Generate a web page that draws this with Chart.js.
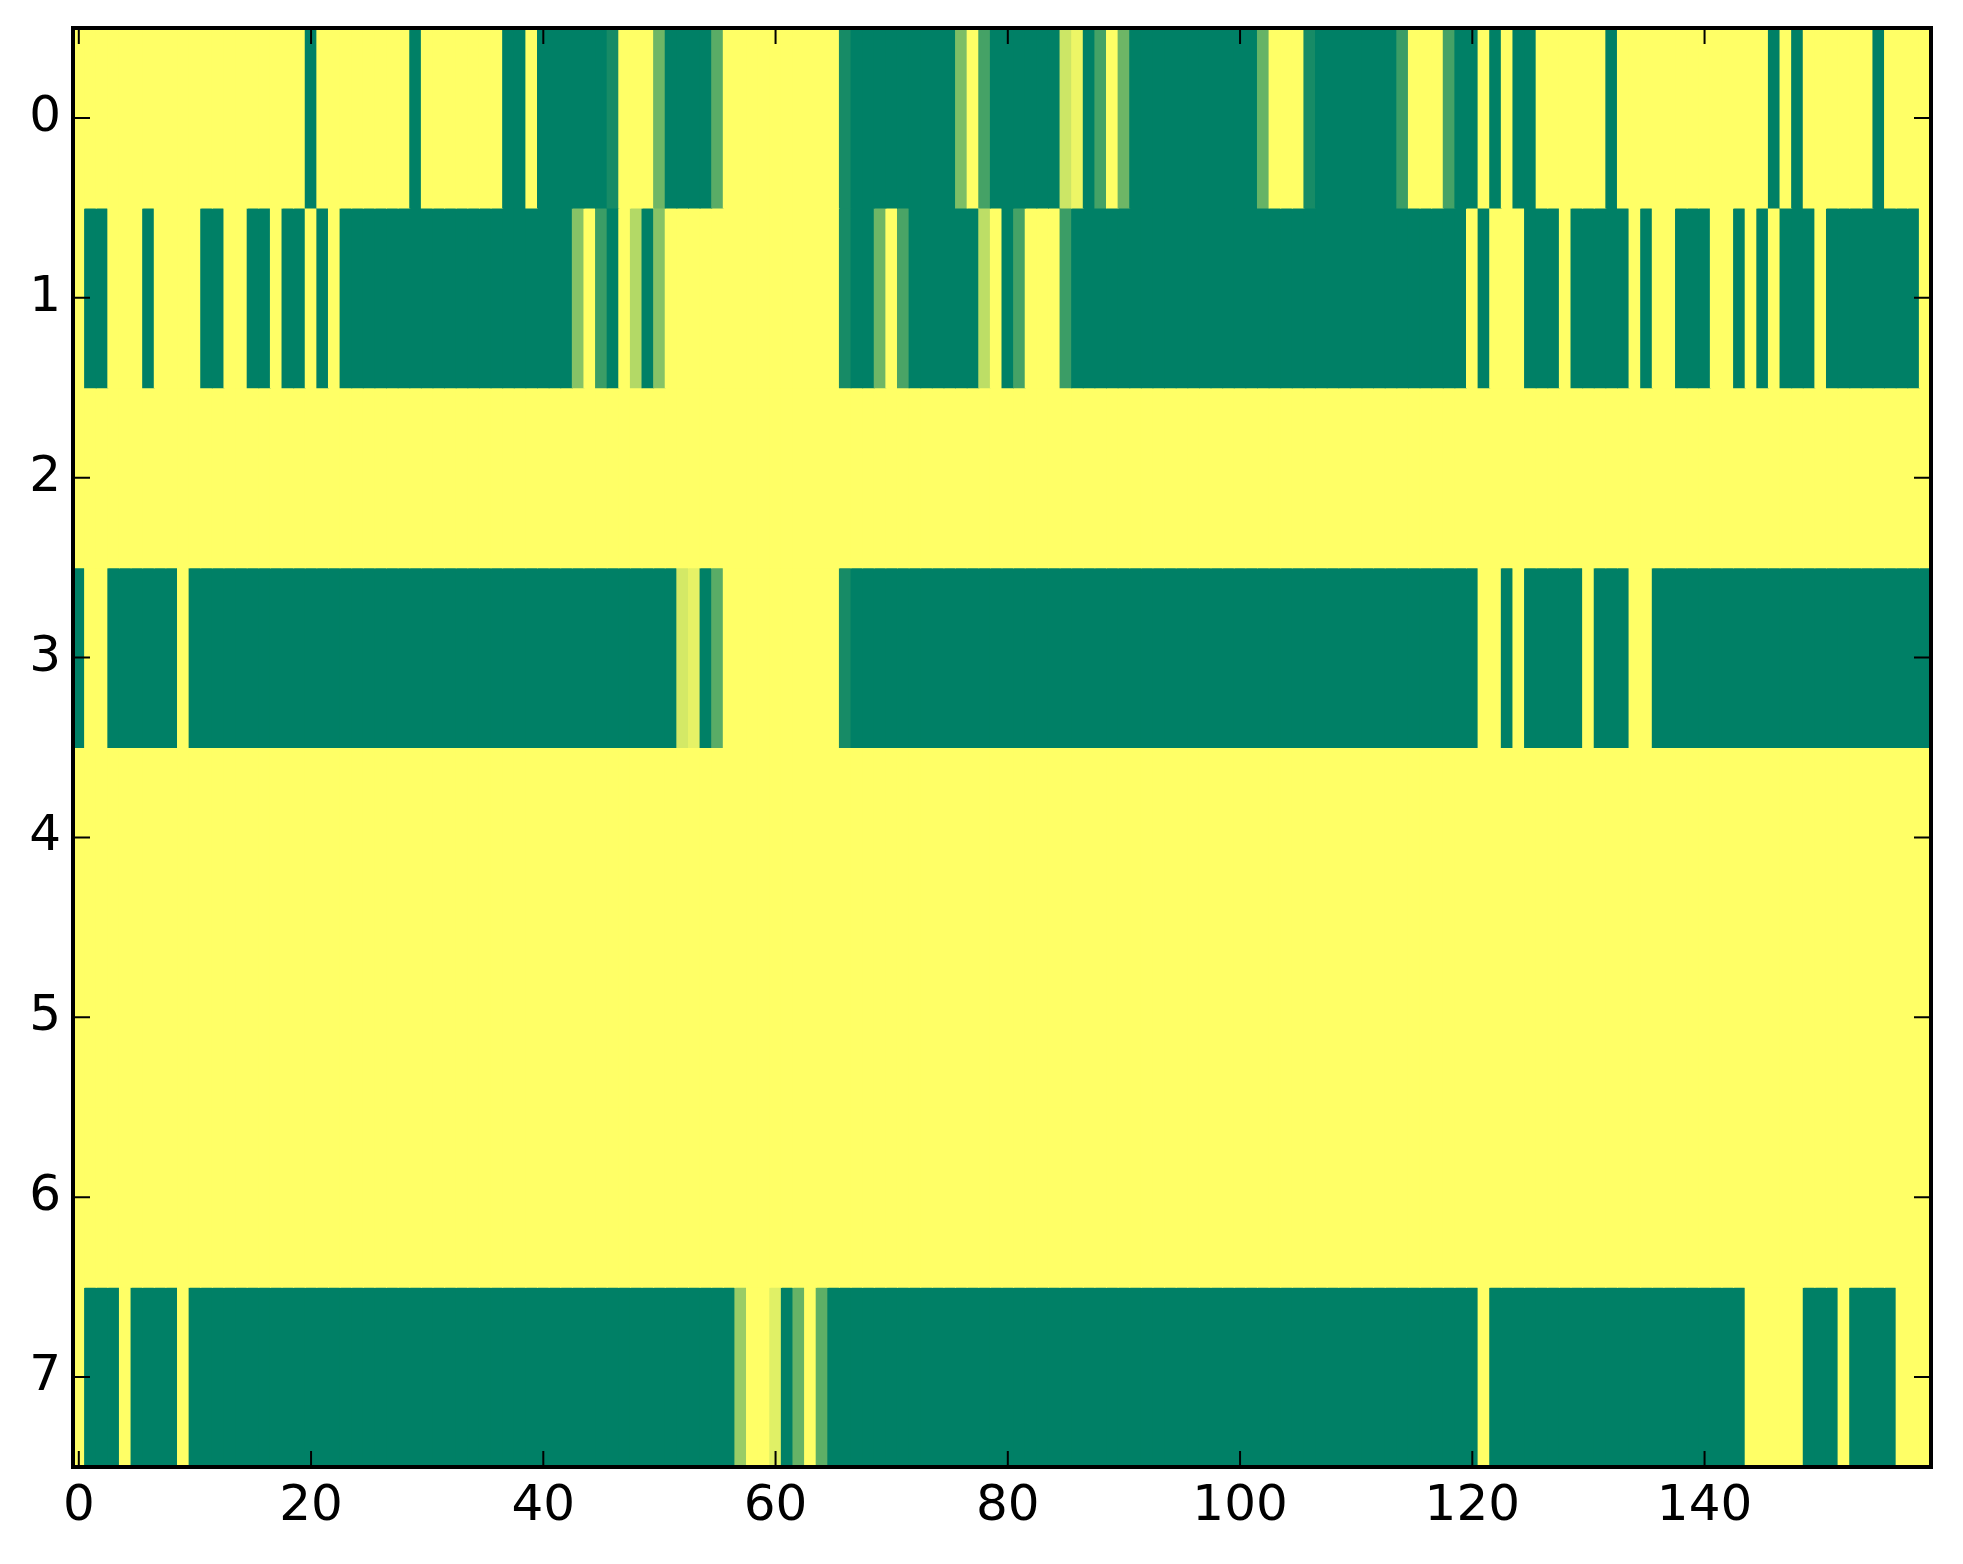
<!DOCTYPE html>
<html>
<head>
<meta charset="utf-8">
<script src="https://cdn.jsdelivr.net/npm/chart.js@4.4.1/dist/chart.umd.min.js"></script>
<style>
  html, body { margin: 0; padding: 0; background: #ffffff; }
  #wrap { position: relative; width: 1963px; height: 1564px; }
</style>
</head>
<body>
<div id="wrap"><canvas id="heat"></canvas></div>
<script>
// row labels (y axis) and x tick labels
const rowLabels = ['0', '1', '2', '3', '4', '5', '6', '7'];
const xTickValues = [0, 20, 40, 60, 80, 100, 120, 140];

// cell values per row, 160 columns each (0 = green, 1 = yellow)
const row0 = [
  1,1,1,1,1,1,1,1,1,1,1,1,1,1,1,1,1,1,1,1,
  0,1,1,1,1,1,1,1,1,0,1,1,1,1,1,1,1,0,0,1,
  0,0,0,0,0,0,0.09,1,1,1,0.43,0,0,0,0,0.35,1,1,1,1,
  1,1,1,1,1,1,0.09,0,0,0,0,0,0,0,0,0,0.49,1,0.27,0,
  0,0,0,0,0,0.8,0.93,0,0.27,1,0.43,0,0,0,0,0,0,0,0,0,
  0,0,0.4,1,1,1,0.09,0,0,0,0,0,0,0,0.23,1,1,1,0.27,0,
  0,1,0,1,0,0,1,1,1,1,1,1,0,1,1,1,1,1,1,1,
  1,1,1,1,1,1,0,1,0,1,1,1,1,1,1,0,1,1,1,1
];
const row1 = [
  1,0,0,1,1,1,0,1,1,1,1,0,0,1,1,0,0,1,0,0,
  1,0,1,0,0,0,0,0,0,0,0,0,0,0,0,0,0,0,0,0,
  0,0,0,0.53,1,0.23,0,1,0.7,0,0.53,1,1,1,1,1,1,1,1,1,
  1,1,1,1,1,1,0.09,0,0,0.43,1,0.29,0,0,0,0,0,0,0.74,1,
  0,0.27,1,1,1,0.23,0,0,0,0,0,0,0,0,0,0,0,0,0,0,
  0,0,0,0,0,0,0,0,0,0,0,0,0,0,0,0,0,0,0,0,
  1,0,1,1,1,0,0,0,1,0,0,0,0,0,1,0,1,1,0,0,
  0,1,1,0,1,0,1,0,0,0,1,0,0,0,0,0,0,0,0,1
];
const row2 = [
  1,1,1,1,1,1,1,1,1,1,1,1,1,1,1,1,1,1,1,1,
  1,1,1,1,1,1,1,1,1,1,1,1,1,1,1,1,1,1,1,1,
  1,1,1,1,1,1,1,1,1,1,1,1,1,1,1,1,1,1,1,1,
  1,1,1,1,1,1,1,1,1,1,1,1,1,1,1,1,1,1,1,1,
  1,1,1,1,1,1,1,1,1,1,1,1,1,1,1,1,1,1,1,1,
  1,1,1,1,1,1,1,1,1,1,1,1,1,1,1,1,1,1,1,1,
  1,1,1,1,1,1,1,1,1,1,1,1,1,1,1,1,1,1,1,1,
  1,1,1,1,1,1,1,1,1,1,1,1,1,1,1,1,1,1,1,1
];
const row3 = [
  0,1,1,0,0,0,0,0,0,1,0,0,0,0,0,0,0,0,0,0,
  0,0,0,0,0,0,0,0,0,0,0,0,0,0,0,0,0,0,0,0,
  0,0,0,0,0,0,0,0,0,0,0,0,0.83,0.9,0,0.35,1,1,1,1,
  1,1,1,1,1,1,0.09,0,0,0,0,0,0,0,0,0,0,0,0,0,
  0,0,0,0,0,0,0,0,0,0,0,0,0,0,0,0,0,0,0,0,
  0,0,0,0,0,0,0,0,0,0,0,0,0,0,0,0,0,0,0,0,
  0,1,1,0,1,0,0,0,0,0,1,0,0,0,1,1,0,0,0,0,
  0,0,0,0,0,0,0,0,0,0,0,0,0,0,0,0,0,0,0,0
];
const row4 = [
  1,1,1,1,1,1,1,1,1,1,1,1,1,1,1,1,1,1,1,1,
  1,1,1,1,1,1,1,1,1,1,1,1,1,1,1,1,1,1,1,1,
  1,1,1,1,1,1,1,1,1,1,1,1,1,1,1,1,1,1,1,1,
  1,1,1,1,1,1,1,1,1,1,1,1,1,1,1,1,1,1,1,1,
  1,1,1,1,1,1,1,1,1,1,1,1,1,1,1,1,1,1,1,1,
  1,1,1,1,1,1,1,1,1,1,1,1,1,1,1,1,1,1,1,1,
  1,1,1,1,1,1,1,1,1,1,1,1,1,1,1,1,1,1,1,1,
  1,1,1,1,1,1,1,1,1,1,1,1,1,1,1,1,1,1,1,1
];
const row5 = [
  1,1,1,1,1,1,1,1,1,1,1,1,1,1,1,1,1,1,1,1,
  1,1,1,1,1,1,1,1,1,1,1,1,1,1,1,1,1,1,1,1,
  1,1,1,1,1,1,1,1,1,1,1,1,1,1,1,1,1,1,1,1,
  1,1,1,1,1,1,1,1,1,1,1,1,1,1,1,1,1,1,1,1,
  1,1,1,1,1,1,1,1,1,1,1,1,1,1,1,1,1,1,1,1,
  1,1,1,1,1,1,1,1,1,1,1,1,1,1,1,1,1,1,1,1,
  1,1,1,1,1,1,1,1,1,1,1,1,1,1,1,1,1,1,1,1,
  1,1,1,1,1,1,1,1,1,1,1,1,1,1,1,1,1,1,1,1
];
const row6 = [
  1,1,1,1,1,1,1,1,1,1,1,1,1,1,1,1,1,1,1,1,
  1,1,1,1,1,1,1,1,1,1,1,1,1,1,1,1,1,1,1,1,
  1,1,1,1,1,1,1,1,1,1,1,1,1,1,1,1,1,1,1,1,
  1,1,1,1,1,1,1,1,1,1,1,1,1,1,1,1,1,1,1,1,
  1,1,1,1,1,1,1,1,1,1,1,1,1,1,1,1,1,1,1,1,
  1,1,1,1,1,1,1,1,1,1,1,1,1,1,1,1,1,1,1,1,
  1,1,1,1,1,1,1,1,1,1,1,1,1,1,1,1,1,1,1,1,
  1,1,1,1,1,1,1,1,1,1,1,1,1,1,1,1,1,1,1,1
];
const row7 = [
  1,0,0,0,1,0,0,0,0,1,0,0,0,0,0,0,0,0,0,0,
  0,0,0,0,0,0,0,0,0,0,0,0,0,0,0,0,0,0,0,0,
  0,0,0,0,0,0,0,0,0,0,0,0,0,0,0,0,0,0.6,1,1,
  0.88,0,0.4,1,0.37,0,0,0,0,0,0,0,0,0,0,0,0,0,0,0,
  0,0,0,0,0,0,0,0,0,0,0,0,0,0,0,0,0,0,0,0,
  0,0,0,0,0,0,0,0,0,0,0,0,0,0,0,0,0,0,0,0,
  0,1,0,0,0,0,0,0,0,0,0,0,0,0,0,0,0,0,0,0,
  0,0,0,0,1,1,1,1,1,0,0,0,1,0,0,0,0,1,1,1
];
const rows = [row0, row1, row2, row3, row4, row5, row6, row7];

// matplotlib 'summer' colormap
function summerColor(v) {
  const r = Math.round(255 * v);
  const g = Math.round(255 * (0.5 + 0.5 * v));
  return `rgb(${r}, ${g}, 102)`;
}

// one dataset per row, each cell a floating bar spanning its column
function buildDatasets() {
  return rows.map((vals, r) => ({
    label: 'row ' + rowLabels[r],
    data: vals.map((v, j) => ({ x: [j - 0.5, j + 0.5], y: rowLabels[r] })),
    backgroundColor: vals.map(summerColor),
    borderWidth: 0,
    barPercentage: 1,
    categoryPercentage: 1,
    grouped: false,
    inflateAmount: 0.5
  }));
}

// black frame and inward ticks on all four sides (classic style)
const frameTicks = {
  id: 'frameTicks',
  afterDatasetsDraw(chart) {
    const { ctx, chartArea: a, scales: { x, y } } = chart;
    ctx.save();
    ctx.strokeStyle = '#000000';
    ctx.lineWidth = 2;
    ctx.beginPath();
    xTickValues.forEach(v => {
      const px = x.getPixelForValue(v);
      ctx.moveTo(px, a.bottom); ctx.lineTo(px, a.bottom - 16);
      ctx.moveTo(px, a.top); ctx.lineTo(px, a.top + 16);
    });
    rowLabels.forEach((_, i) => {
      const py = y.getPixelForTick(i);
      ctx.moveTo(a.left, py); ctx.lineTo(a.left + 17, py);
      ctx.moveTo(a.right, py); ctx.lineTo(a.right - 17, py);
    });
    ctx.stroke();
    ctx.lineWidth = 4;
    ctx.strokeRect(a.left, a.top, a.right - a.left, a.bottom - a.top);
    ctx.restore();
  }
};

const tickFont = { family: 'DejaVu Sans', size: 50 };

const ctx = document.getElementById('heat').getContext('2d');
new Chart(ctx, {
  type: 'bar',
  data: { labels: rowLabels, datasets: buildDatasets() },
  options: {
    indexAxis: 'y',
    responsive: true,
    maintainAspectRatio: false,
    devicePixelRatio: 1,
    animation: false,
    layout: { padding: { top: 28, right: 32, left: 0, bottom: 0 } },
    plugins: { legend: { display: false }, tooltip: { enabled: false } },
    scales: {
      x: {
        type: 'linear',
        min: -0.5,
        max: 159.5,
        afterBuildTicks: s => { s.ticks = xTickValues.map(v => ({ value: v })); },
        afterFit: s => { s.height = 97; s.paddingLeft = 0; s.paddingRight = 0; },
        grid: { display: false, drawTicks: false },
        border: { display: false },
        ticks: { color: '#000000', font: tickFont, padding: 10, maxRotation: 0, autoSkip: false }
      },
      y: {
        type: 'category',
        labels: rowLabels,
        offset: true,
        afterFit: s => { s.width = 73; s.paddingTop = 0; s.paddingBottom = 0; },
        grid: { display: false, drawTicks: false },
        border: { display: false },
        ticks: { color: '#000000', font: tickFont, padding: 12 }
      }
    }
  },
  plugins: [frameTicks]
});
</script>
</body>
</html>
